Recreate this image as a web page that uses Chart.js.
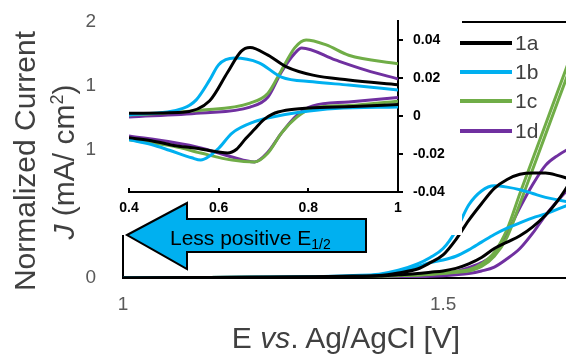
<!DOCTYPE html>
<html>
<head>
<meta charset="utf-8">
<script src="https://cdn.jsdelivr.net/npm/chart.js@4/dist/chart.umd.min.js"></script>
<style>
  body { margin: 0; background: #fff; }
  #wrap { position: relative; width: 566px; height: 356px; overflow: hidden; font-family: "Liberation Sans", Arial, sans-serif; }
  #mainCanvas { position: absolute; left: 0; top: 0; }
  #insetCanvas { position: absolute; left: 115px; top: 0; background: #fff; }
  #arrow { position: absolute; left: 0; top: 0; }
  .ytitle { position: absolute; width: 320px; height: 34px; line-height: 34px; text-align: center;
            font-size: 30px; color: #404040; transform: rotate(-90deg); white-space: nowrap; }
  #xtitle { position: absolute; left: 146px; top: 321px; width: 400px; height: 34px; line-height: 34px;
            text-align: center; font-size: 30px; color: #404040; white-space: nowrap; }
  .legLine { position: absolute; left: 460px; width: 52px; height: 4px; }
  .legText { position: absolute; left: 515px; height: 26px; line-height: 26px; font-size: 21px; color: #404040; }
</style>
</head>
<body>
<div id="wrap">
  <canvas id="mainCanvas" width="566" height="356"></canvas>
  <canvas id="insetCanvas" width="347" height="235"></canvas>
  <svg id="arrow" width="566" height="356">
    <polygon points="127,235 187,203 187,219 366,219 366,252 187,252 187,269"
             fill="#00B0F0" stroke="#000" stroke-width="2" stroke-linejoin="miter"/>
    <text x="170" y="245" font-family="Liberation Sans, Arial, sans-serif" font-size="21" fill="#000">Less positive E<tspan font-size="14" dy="4">1/2</tspan></text>
  </svg>
  <div class="ytitle" style="left:-135px; top:144px;">Normalized Current</div>
  <div class="ytitle" style="left:-96px; top:145px;"><i>J</i> (mA/ cm<sup style="font-size:18px; line-height:0;">2</sup>)</div>
  <div id="xtitle">E <i>vs</i>. Ag/AgCl [V]</div>
  <div id="legend"></div>
</div>
<script>
const FONT = "'Liberation Sans', Arial, sans-serif";

// compounds and colours
const seriesNames = ["1a", "1b", "1c", "1d"];
const seriesColors = ["#000000", "#00B0F0", "#70AD47", "#7030A0"];

// main plot: J vs E, forward and reverse sweep for each compound
const mainE = [1.00, 1.20, 1.30, 1.36, 1.40, 1.43, 1.46, 1.48, 1.50, 1.52, 1.54, 1.56, 1.58, 1.60, 1.62, 1.64, 1.66, 1.68, 1.70];
const main1aFwd = [0, 0.005, 0.01, 0.015, 0.02, 0.04, 0.07, 0.12, 0.18, 0.30, 0.45, 0.58, 0.70, 0.77, 0.81, 0.82, 0.82, 0.80, 0.77];
const main1aRev = [0, 0.005, 0.008, 0.012, 0.015, 0.025, 0.035, 0.045, 0.055, 0.075, 0.11, 0.16, 0.23, 0.28, 0.33, 0.40, 0.49, 0.61, 0.76];
const main1bFwd = [0, 0.005, 0.01, 0.02, 0.03, 0.06, 0.11, 0.16, 0.23, 0.37, 0.57, 0.68, 0.72, 0.71, 0.69, 0.66, 0.63, 0.61, 0.59];
const main1bRev = [0, 0.005, 0.01, 0.015, 0.025, 0.05, 0.09, 0.12, 0.14, 0.17, 0.22, 0.28, 0.34, 0.39, 0.43, 0.47, 0.50, 0.54, 0.58];
const main1cFwd = [0, 0.005, 0.008, 0.012, 0.015, 0.02, 0.025, 0.03, 0.04, 0.05, 0.065, 0.11, 0.20, 0.38, 0.66, 0.93, 1.20, 1.47, 1.74];
const main1cRev = [0, 0.005, 0.008, 0.012, 0.015, 0.018, 0.022, 0.027, 0.035, 0.045, 0.055, 0.09, 0.17, 0.32, 0.58, 0.85, 1.12, 1.39, 1.66];
const main1dFwd = [0, 0.003, 0.005, 0.008, 0.01, 0.012, 0.018, 0.025, 0.035, 0.05, 0.08, 0.12, 0.19, 0.35, 0.55, 0.73, 0.88, 0.96, 1.02];
const main1dRev = [0, 0.002, 0.003, 0.005, 0.006, 0.008, 0.01, 0.013, 0.018, 0.025, 0.035, 0.055, 0.085, 0.15, 0.23, 0.35, 0.49, 0.61, 0.72];
const mainYTickLabels = ["0", "", "1", "1", "2"];

// inset: CV, potential (V) and current for each branch
const cv1aFwdE = [0.40, 0.52, 0.58, 0.62, 0.65, 0.67, 0.71, 0.75, 0.81, 0.89, 1.00];
const cv1aFwdJ = [0.0015, 0.002, 0.008, 0.023, 0.034, 0.036, 0.032, 0.026, 0.0215, 0.019, 0.0165];
const cv1aRevE = [0.40, 0.45, 0.50, 0.55, 0.60, 0.62, 0.64, 0.66, 0.68, 0.70, 0.72, 0.75, 0.80, 0.90, 1.00];
const cv1aRevJ = [-0.0115, -0.013, -0.0155, -0.017, -0.019, -0.0195, -0.0175, -0.012, -0.007, -0.002, 0.001, 0.003, 0.0042, 0.005, 0.006];
const cv1bFwdE = [0.40, 0.52, 0.55, 0.58, 0.60, 0.635, 0.69, 0.74, 0.81, 0.89, 1.00];
const cv1bFwdJ = [0.0005, 0.004, 0.0085, 0.019, 0.027, 0.0305, 0.028, 0.0205, 0.018, 0.0163, 0.0137];
const cv1bRevE = [0.40, 0.45, 0.49, 0.54, 0.56, 0.58, 0.60, 0.63, 0.68, 0.72, 0.78, 0.86, 1.00];
const cv1bRevJ = [-0.0125, -0.015, -0.018, -0.022, -0.0232, -0.021, -0.017, -0.009, -0.003, -0.0005, 0.002, 0.004, 0.0047];
const cv1cFwdE = [0.40, 0.56, 0.67, 0.71, 0.74, 0.77, 0.795, 0.84, 0.89, 1.00];
const cv1cFwdJ = [0.0005, 0.003, 0.0068, 0.012, 0.024, 0.036, 0.040, 0.0374, 0.032, 0.0275];
const cv1cRevE = [0.40, 0.50, 0.56, 0.63, 0.68, 0.71, 0.74, 0.775, 0.81, 0.89, 1.00];
const cv1cRevJ = [-0.0125, -0.016, -0.0195, -0.0232, -0.0242, -0.0195, -0.009, -0.0005, 0.0042, 0.0055, 0.0078];
const cv1dFwdE = [0.40, 0.56, 0.67, 0.71, 0.74, 0.77, 0.785, 0.86, 0.93, 1.00];
const cv1dFwdJ = [-0.0005, 0.0016, 0.0047, 0.010, 0.0232, 0.0331, 0.0358, 0.0295, 0.024, 0.0195];
const cv1dRevE = [0.40, 0.50, 0.56, 0.63, 0.68, 0.71, 0.74, 0.775, 0.81, 0.89, 1.00];
const cv1dRevJ = [-0.0105, -0.014, -0.0168, -0.0216, -0.0242, -0.019, -0.009, 0.0005, 0.0053, 0.0074, 0.0098];

function pts(xs, ys) {
    return xs.map((x, i) => ({ x: x, y: ys[i] }));
}

// keep the plot area exactly where the padding puts it
function noOverflow(s) {
    s.paddingTop = 0;
    s.paddingBottom = 0;
    s.paddingLeft = 0;
    s.paddingRight = 0;
}

// ---------- main chart ----------
const mainBranches = [
    [main1aFwd, main1aRev],
    [main1bFwd, main1bRev],
    [main1cFwd, main1cRev],
    [main1dFwd, main1dRev]
];
const mainSets = [];
mainBranches.forEach((pair, k) => {
    pair.forEach(arr => {
        mainSets.push({
            label: seriesNames[k],
            data: pts(mainE, arr),
            borderColor: seriesColors[k],
            borderWidth: 3,
            pointRadius: 0,
            cubicInterpolationMode: "monotone"
        });
    });
});

const topBorder = {
    id: "topBorder",
    afterDraw(chart) {
        const a = chart.chartArea;
        const ctx = chart.ctx;
        ctx.save();
        ctx.strokeStyle = "#000";
        ctx.lineWidth = 2;
        ctx.beginPath();
        ctx.moveTo(a.left, a.top);
        ctx.lineTo(a.right, a.top);
        ctx.stroke();
        ctx.restore();
    }
};

const mainCanvas = document.getElementById("mainCanvas");
const mainChart = new Chart(mainCanvas, {
    type: "line",
    data: { datasets: mainSets },
    options: {
        responsive: false,
        animation: false,
        layout: { padding: { top: 22, left: 0, right: 0, bottom: 0 } },
        plugins: { legend: { display: false }, tooltip: { enabled: false } },
        scales: {
            x: {
                type: "linear",
                min: 1,
                max: 1.692,
                afterFit: s => { s.height = 78; noOverflow(s); },
                grid: { display: false, drawTicks: false },
                border: { color: "#000", width: 2 },
                ticks: {
                    stepSize: 0.5,
                    includeBounds: false,
                    padding: 15,
                    color: "#595959",
                    font: { size: 19, family: FONT },
                    callback: v => String(v)
                }
            },
            y: {
                min: 0,
                max: 2,
                afterFit: s => { s.width = 123; noOverflow(s); },
                grid: { display: false, drawTicks: false },
                border: { color: "#000", width: 2 },
                ticks: {
                    stepSize: 0.5,
                    padding: 27,
                    color: "#595959",
                    font: { size: 19, family: FONT },
                    callback: (v, i) => mainYTickLabels[i]
                }
            }
        }
    },
    plugins: [topBorder]
});

// ---------- inset CV chart ----------
const cvBranches = [
    [[cv1aFwdE, cv1aFwdJ], [cv1aRevE, cv1aRevJ]],
    [[cv1bFwdE, cv1bFwdJ], [cv1bRevE, cv1bRevJ]],
    [[cv1cFwdE, cv1cFwdJ], [cv1cRevE, cv1cRevJ]],
    [[cv1dFwdE, cv1dFwdJ], [cv1dRevE, cv1dRevJ]]
];
const insetSets = [];
cvBranches.forEach((pair, k) => {
    pair.forEach(b => {
        insetSets.push({
            label: seriesNames[k],
            data: pts(b[0], b[1]),
            borderColor: seriesColors[k],
            borderWidth: 3,
            pointRadius: 0,
            cubicInterpolationMode: "monotone"
        });
    });
});

const insetCanvas = document.getElementById("insetCanvas");
const insetChart = new Chart(insetCanvas, {
    type: "line",
    data: { datasets: insetSets },
    options: {
        responsive: false,
        animation: false,
        layout: { padding: { top: 21, left: 14, right: 0, bottom: 0 } },
        plugins: { legend: { display: false }, tooltip: { enabled: false } },
        scales: {
            x: {
                type: "linear",
                min: 0.4,
                max: 1,
                afterFit: s => { s.height = 43; noOverflow(s); },
                grid: { drawOnChartArea: false, drawTicks: true, tickLength: -4, color: "#000", lineWidth: 2 },
                border: { color: "#000", width: 2 },
                ticks: {
                    stepSize: 0.2,
                    padding: 12,
                    color: "#000",
                    font: { size: 14, weight: "bold", family: FONT },
                    callback: v => (v === 1 ? "1" : v.toFixed(1))
                }
            },
            y: {
                position: "right",
                min: -0.04,
                max: 0.05,
                afterFit: s => { s.width = 64; noOverflow(s); },
                grid: { drawOnChartArea: false, drawTicks: true, tickLength: 5, color: "#000", lineWidth: 2 },
                border: { color: "#000", width: 2 },
                ticks: {
                    stepSize: 0.02,
                    includeBounds: false,
                    padding: 10,
                    color: "#000",
                    font: { size: 14, weight: "bold", family: FONT },
                    callback: v => (Math.abs(v) < 1e-9 ? "0" : v.toFixed(2))
                }
            }
        }
    }
});

// ---------- legend ----------
const legendTops = [42.5, 71.5, 101, 131];
const legend = document.getElementById("legend");
seriesNames.forEach((name, k) => {
    const line = document.createElement("div");
    line.className = "legLine";
    line.style.top = (legendTops[k] - 2) + "px";
    line.style.background = seriesColors[k];
    legend.appendChild(line);
    const txt = document.createElement("div");
    txt.className = "legText";
    txt.style.top = (legendTops[k] - 13) + "px";
    txt.textContent = name;
    legend.appendChild(txt);
});
</script>
</body>
</html>
